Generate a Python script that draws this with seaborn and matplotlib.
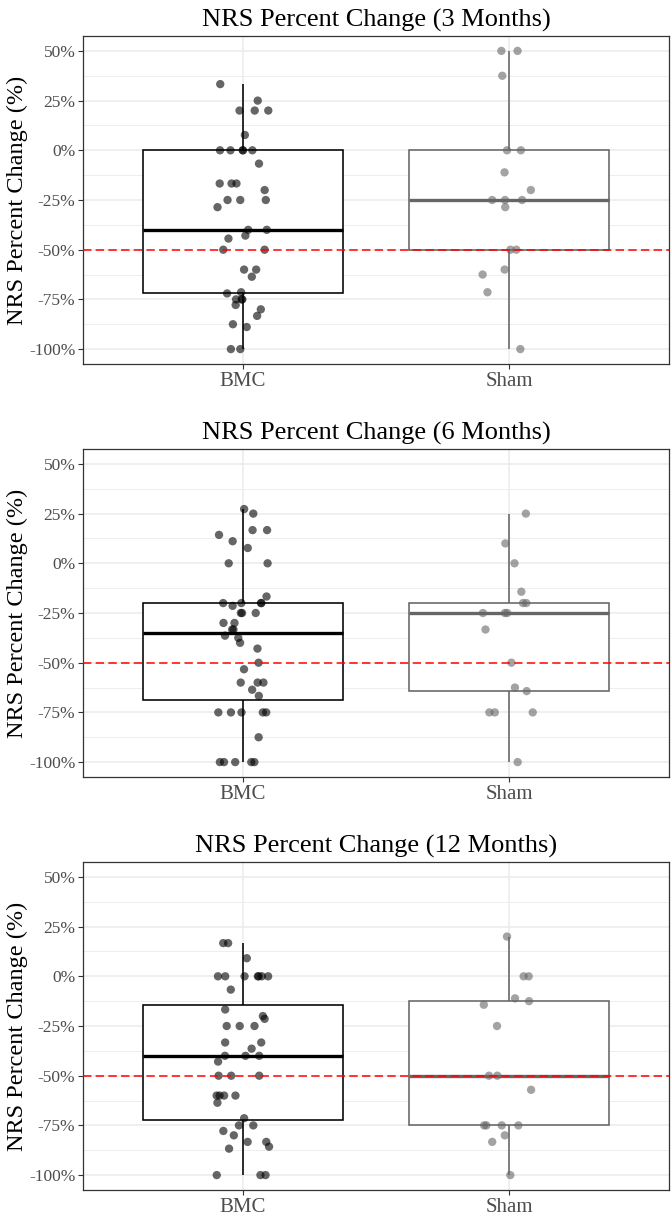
import numpy as np
import pandas as pd
import matplotlib.pyplot as plt
import seaborn as sns
from matplotlib.ticker import MultipleLocator, FuncFormatter

# NRS percent change values, per group and time point
groups = ['BMC', 'Sham']
months = ['3 Months', '6 Months', '12 Months']

bmc_3m = [33.3, 25, 20, 20, 20, 7.7, 0, 0, 0, 0, 0, -6.7, -16.7, -16.7, -16.7, -20,
          -25, -25, -25, -28.6, -40, -40, -44.4, -42.9, -50, -50, -60, -60, -63.6,
          -71.4, -72, -75, -75, -75, -77.8, -80, -83.3, -87.5, -88.9, -100, -100]
sham_3m = [50, 50, 37.5, 0, 0, -11.1, -20, -25, -25, -25, -28.6, -50, -50, -60,
           -62.5, -71.4, -100]

bmc_6m = [27.3, 25, 16.7, 16.7, 14.3, 11.1, 7.7, 0, 0, -16.7, -20, -20, -20, -20,
          -21.4, -25, -25, -25, -30, -30, -33.3, -33.3, -36.4, -37.5, -40, -42.9,
          -50, -53.3, -60, -60, -60, -63.6, -66.7, -75, -75, -75, -75, -75, -87.5,
          -100, -100, -100, -100, -100]
sham_6m = [25, 10, 0, -14.3, -20, -20, -25, -25, -25, -33.3, -50, -62.5, -64.3,
           -75, -75, -75, -100]

bmc_12m = [16.7, 16.7, 9.1, 0, 0, 0, 0, 0, 0, 0, -6.7, -16.7, -20, -21.4, -25, -25,
           -25, -33.3, -33.3, -36.4, -40, -40, -40, -42.9, -50, -50, -50, -60, -60,
           -60, -60, -63.6, -71.4, -75, -75, -77.8, -80, -83.3, -83.3, -85.7, -86.7,
           -100, -100, -100]
sham_12m = [20, 0, 0, -11.1, -12.5, -14.3, -25, -50, -50, -57.1, -75, -75, -75, -75,
            -80, -83.3, -100]

panels = [(bmc_3m, sham_3m), (bmc_6m, sham_6m), (bmc_12m, sham_12m)]

edge = {'BMC': 'black', 'Sham': '#666666'}

sns.set_style('white')
plt.rcParams['font.family'] = ['Liberation Serif', 'DejaVu Serif']
plt.rcParams['axes.unicode_minus'] = False

np.random.seed(7)

W, H = 672, 1217
fig = plt.figure(figsize=(W / 100, H / 100), dpi=100)
left, right = 83, 669
tops = [36, 449, 862]
bottoms = [364, 777, 1190]

for i, (bmc, sham) in enumerate(panels):
    df = pd.DataFrame({
        'group': ['BMC'] * len(bmc) + ['Sham'] * len(sham),
        'value': bmc + sham,
    })
    ax = fig.add_axes([left / W, 1 - bottoms[i] / H, (right - left) / W,
                       (bottoms[i] - tops[i]) / H])

    for g in groups:
        sns.boxplot(data=df[df['group'] == g], x='group', y='value', order=groups,
                    color='white', linecolor=edge[g], linewidth=1.15, width=0.75,
                    showfliers=False, showcaps=False,
                    medianprops={'linewidth': 2.4}, ax=ax)

    sns.stripplot(data=df, x='group', y='value', hue='group', order=groups,
                  palette=edge, jitter=0.1, size=6, alpha=0.6, linewidth=0,
                  legend=False, ax=ax, zorder=3)

    ax.axhline(-50, color='red', ls=(0, (5.5, 2.8)), lw=1.1, zorder=4)

    ax.set_xlim(-0.6, 1.6)
    ax.set_ylim(-107.5, 57.5)
    ax.yaxis.set_major_locator(MultipleLocator(25))
    ax.yaxis.set_minor_locator(MultipleLocator(12.5))
    ax.yaxis.set_major_formatter(FuncFormatter(lambda v, p: f"{int(round(v))}%"))
    ax.set_axisbelow(True)
    ax.grid(which='major', axis='both', color='#EBEBEB', lw=1.1)
    ax.grid(which='minor', axis='y', color='#EBEBEB', lw=0.6)

    for s in ax.spines.values():
        s.set_visible(True)
        s.set_color('#333333')
        s.set_linewidth(0.9)

    ax.tick_params(which='major', direction='out', length=3.5, width=0.8,
                   color='#333333', labelcolor='#4D4D4D', left=True, bottom=True)
    ax.tick_params(which='minor', length=0)
    ax.tick_params(axis='y', labelsize=12.5, pad=2)
    ax.tick_params(axis='x', labelsize=15, pad=2)

    ax.set_title(f"NRS Percent Change ({months[i]})", fontsize=19, pad=7,
                 color='black')
    ax.set_ylabel('NRS Percent Change (%)', fontsize=17.5, color='black')
    ax.yaxis.set_label_coords(-0.094, 0.5)
    ax.set_xlabel('')

fig.savefig('out.png', dpi=100)
